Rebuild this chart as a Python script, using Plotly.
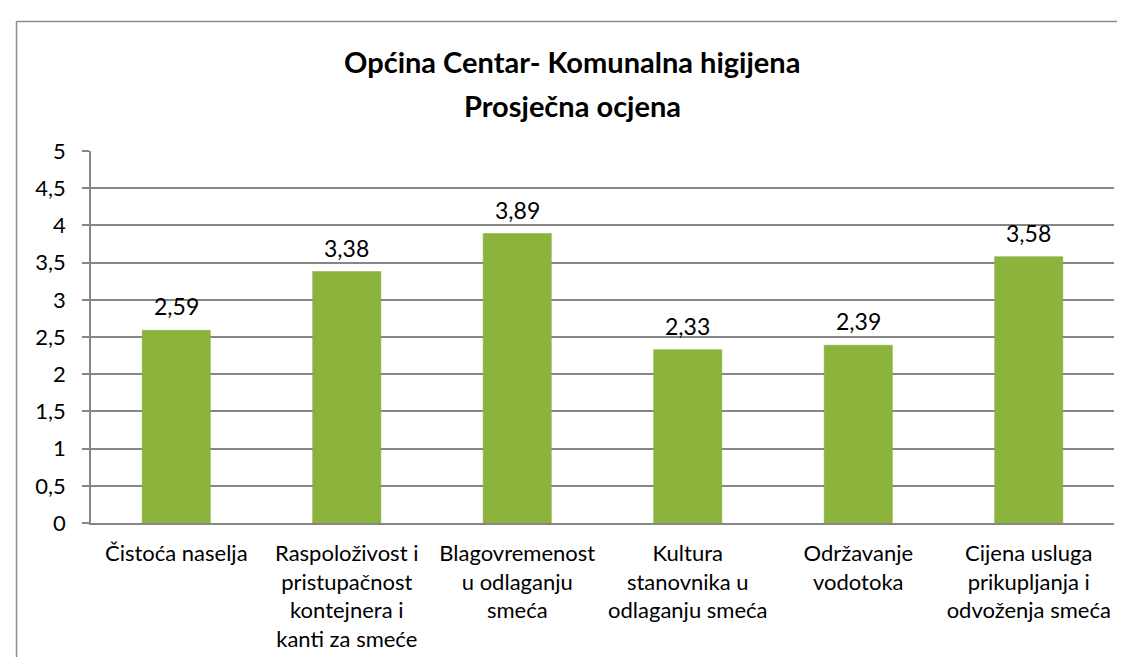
import plotly.graph_objects as go

categories = [
    "Čistoća naselja",
    "Raspoloživost i<br>pristupačnost<br>kontejnera i<br>kanti za smeće",
    "Blagovremenost<br>u odlaganju<br>smeća",
    "Kultura<br>stanovnika u<br>odlaganju smeća",
    "Održavanje<br>vodotoka",
    "Cijena usluga<br>prikupljanja i<br>odvoženja smeća",
]
values = [2.59, 3.38, 3.89, 2.33, 2.39, 3.58]
y_ticks = [0, 0.5, 1, 1.5, 2, 2.5, 3, 3.5, 4, 4.5, 5]
title_lines = ["Općina Centar- Komunalna higijena", "Prosječna ocjena"]

W, H = 1125, 657
L, R, T, B = 83, 19, 143, 142
pw, ph = W - L - R, H - T - B

def px_x(px):
    return (px - L) / pw

def px_y(py):
    return (H - B - py) / ph

FONT = "Lato"
GRID = "#868686"

fig = go.Figure()
fig.add_trace(go.Bar(
    x=categories,
    y=values,
    marker=dict(color="#8cb43c", line=dict(color="#84ac38", width=0.5)),
    width=0.4,
    hoverinfo="x+y",
))

label_annots = [
    dict(x=c, y=v, xref="x", yref="y", text=("%.2f" % v).replace(".", ","),
         showarrow=False, yanchor="middle", yshift=24,
         font=dict(family=FONT, size=23, color="#000000"))
    for c, v in zip(categories, values)
]

title_annots = [
    dict(text="<b>%s</b>" % title_lines[0], xref="paper", yref="paper",
         x=px_x(564), y=px_y(53), xanchor="center", yanchor="middle",
         showarrow=False, font=dict(family=FONT, size=29, color="#000000")),
    dict(text="<b>%s</b>" % title_lines[1], xref="paper", yref="paper",
         x=px_x(564), y=px_y(97), xanchor="center", yanchor="middle",
         showarrow=False, font=dict(family=FONT, size=29, color="#000000")),
]

fig.update_layout(
    width=W, height=H,
    margin=dict(l=L, r=R, t=T, b=B),
    paper_bgcolor="white",
    plot_bgcolor="white",
    separators=",.",
    showlegend=False,
    font=dict(family=FONT, size=22, color="#000000"),
    xaxis=dict(
        showline=True, linecolor=GRID, linewidth=1.5,
        ticks="", showgrid=False,
        ticklabelstandoff=10,
        tickfont=dict(family=FONT, size=22, color="#000000"),
        fixedrange=True,
    ),
    yaxis=dict(
        range=[0, 5], tickvals=y_ticks,
        tickformat=",.1~f",
        showline=True, linecolor=GRID, linewidth=1.5,
        ticks="outside", ticklen=7, tickcolor=GRID, tickwidth=1.5,
        ticklabelstandoff=12,
        showgrid=True, gridcolor=GRID, gridwidth=1.5,
        zeroline=False,
        tickfont=dict(family=FONT, size=22, color="#000000"),
        fixedrange=True,
    ),
    shapes=[
        dict(type="line", xref="paper", yref="paper",
             x0=px_x(8.5), x1=px_x(8.5), y0=px_y(13.5), y1=px_y(H + 2),
             line=dict(color="#8c8c8c", width=1.5)),
        dict(type="line", xref="paper", yref="paper",
             x0=px_x(8.5), x1=px_x(W + 2), y0=px_y(13.5), y1=px_y(13.5),
             line=dict(color="#8c8c8c", width=1.5)),
    ],
    annotations=title_annots + label_annots,
)

fig.write_html("out.html")
